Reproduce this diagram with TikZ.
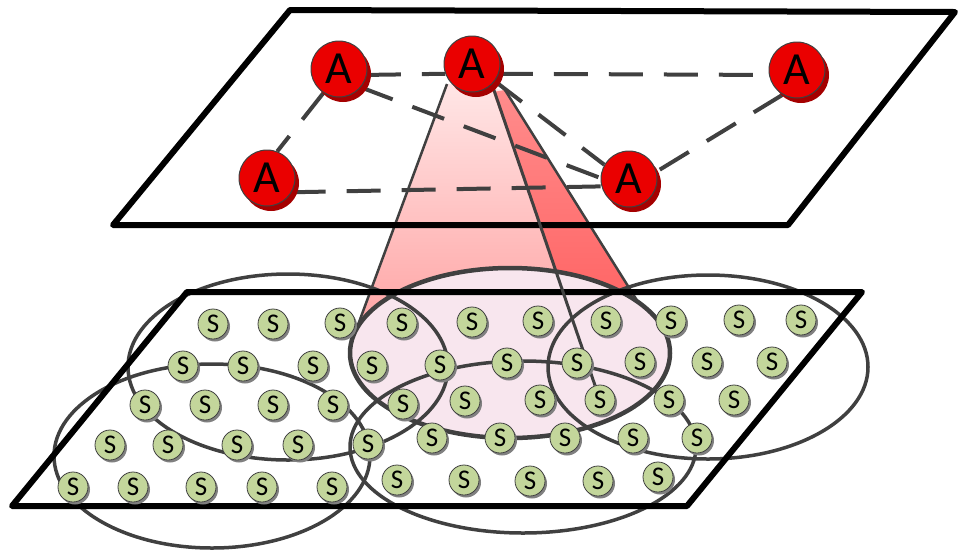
\documentclass[tikz,border=0pt]{standalone}
\usepackage{fontspec}
\setmainfont{Carlito}
\usetikzlibrary{shadows}
\definecolor{agent}{RGB}{234,0,0}
\definecolor{agentshadow}{RGB}{165,0,0}
\definecolor{sensor}{RGB}{195,214,155}
\definecolor{edgegray}{RGB}{64,64,64}
\definecolor{conelight}{RGB}{255,230,230}
\definecolor{conemid}{RGB}{255,150,150}
\definecolor{conedarktop}{RGB}{255,140,140}
\definecolor{conedarkbot}{RGB}{255,100,100}
\definecolor{footprint}{RGB}{248,230,238}
\pgfdeclarelayer{conelayer}
\pgfdeclarelayer{linklayer}
\pgfsetlayers{conelayer,linklayer,main}
\begin{document}
\begin{tikzpicture}[x=1pt,y=-1pt,
  agentnode/.style={circle, draw=edgegray, line width=1pt, fill=agent,
    minimum size=56pt, inner sep=0pt, font=\fontsize{46}{46}\selectfont,
    drop shadow={shadow xshift=4pt, shadow yshift=-5pt, fill=agentshadow, opacity=1}},
  sensornode/.style={circle, draw=edgegray, line width=0.8pt, fill=sensor,
    minimum size=30pt, inner sep=0pt, font=\fontsize{27}{27}\selectfont,
    drop shadow={shadow xshift=2pt, shadow yshift=-2.5pt, fill=gray, opacity=1}},
  plane/.style={draw=black, line width=6pt, line join=round},
  link/.style={draw=edgegray, line width=4pt, dash pattern=on 34pt off 21pt},
  region/.style={draw=edgegray, line width=3.5pt},
  coneedge/.style={draw=edgegray, line width=2.5pt}
]
\useasboundingbox (0,0) rectangle (958,550);

% agents on the upper plane
\node[agentnode] (a1) at (339,69)  {A};
\node[agentnode] (a2) at (472,64)  {A};
\node[agentnode] (a3) at (797,70)  {A};
\node[agentnode] (a4) at (267,178) {A};
\node[agentnode] (a5) at (629,179) {A};

% sensors on the lower plane
\foreach \x/\y [count=\i] in {
  213/324, 273/324, 340/323, 402/323, 472/322, 538/321, 606/321, 671/321, 739/320, 801/320,
  183/366, 243/366, 313/366, 372/366, 440/365, 507/363, 577/363, 640/362, 707/362, 772/362,
  145/405, 205/405, 273/405, 333/405, 403/404, 465/401, 540/400, 600/400, 669/400, 734/400,
  110/445, 168/445, 237/445, 298/445, 368/444, 432/438, 500/438, 565/438, 633/438, 697/438,
   73/487, 133/487, 201/487, 262/487, 332/487, 397/480, 464/480, 530/481, 598/481, 658/477}
  \node[sensornode] (s\i) at (\x,\y) {S};

% sensing cone of the central agent
\coordinate (apexL) at (447,84);
\coordinate (apexM) at (493,92);
\coordinate (apexR) at (505,90);
\coordinate (coneL) at (355,333);
\coordinate (coneR) at (638,302);

\begin{pgfonlayer}{conelayer}
  \shade[top color=conelight, bottom color=conemid]
    (apexL) -- (coneL) -- (510,380) -- (coneR) -- (apexR) -- cycle;
  \shade[top color=conedarktop, bottom color=conedarkbot]
    (apexM) -- (apexR) -- (coneR) -- (600,310) -- (559.5,283) -- cycle;
  \fill[footprint] (510,353) ellipse [x radius=160, y radius=85];
\end{pgfonlayer}

\begin{pgfonlayer}{linklayer}
  % communication links between agents
  \draw[link] (a1.-12)  -- (a2.200);
  \draw[link] (a2.-20)  -- (a3.190);
  \draw[link] (a1.237)  -- (a4.69);
  \draw[link] (a1.-40)  -- (a5.178);
  \draw[link] (a2.-37)  -- (a5.150);
  \draw[link] (a4.-30)  -- (a5.195);
  \draw[link] (a3.-120) -- (a5.15);

  % sensing regions of the other agents
  \draw[region] (288,367) ellipse [x radius=160, y radius=93];
  \draw[region] (212,456) ellipse [x radius=158, y radius=92];
  \draw[region] (523,447) ellipse [x radius=173, y radius=86];
  \draw[region] (708,367) ellipse [x radius=160, y radius=92];
  \draw[draw=edgegray, line width=4.5pt] (510,353) ellipse [x radius=160, y radius=85];

  % cone outline
  \draw[coneedge] (apexL) -- (coneL);
  \draw[coneedge] (apexR) -- (coneR);

  % the two planes
  \draw[plane] (290,10) -- (955,12) -- (788,225) -- (113,225) -- cycle;
  \draw[plane] (187,292) -- (862,292) -- (687,506) -- (12,506) -- cycle;

  % line of sight to one sensor
  \draw[draw=edgegray, line width=3pt] ([xshift=13pt]a2.center) -- (s28);
\end{pgfonlayer}
\end{tikzpicture}
\end{document}
